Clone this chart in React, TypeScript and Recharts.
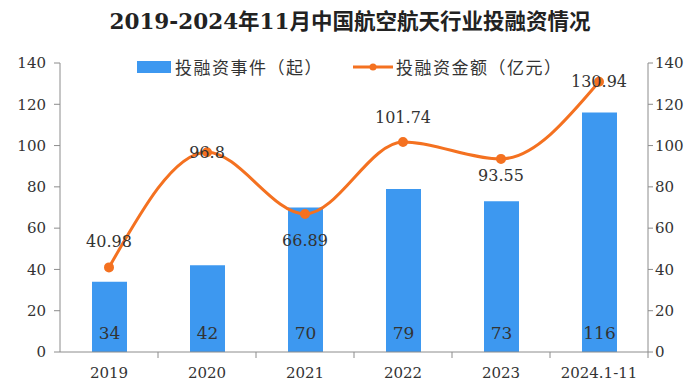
import { Bar, Line, XAxis, YAxis, LabelList, ComposedChart } from 'recharts'

const years = ['2019', '2020', '2021', '2022', '2023', '2024.1-11']
const eventCounts = [34, 42, 70, 79, 73, 116]
const amounts = [40.98, 96.8, 66.89, 101.74, 93.55, 130.94]
const yTicks = [0, 20, 40, 60, 80, 100, 120, 140]

// label nudges for the amount line (the source puts some above, some below the points)
const amountLabelDy = [-26, 0, 27, -24, 17, 0]

const data = years.map((year, i) => ({
  year,
  count: eventCounts[i],
  amount: amounts[i],
}))

const BLUE = '#3d98f0'
const ORANGE = '#f47120'
const AXIS = '#8c8c8c'
const TEXT = '#333'
const SERIF = '"DejaVu Serif", "Noto Sans CJK SC", serif'
const CJK = '"Noto Sans CJK SC", sans-serif'

const WIDTH = 690
const HEIGHT = 385
const LEFT_W = 60
const RIGHT_W = 42
const BAND = (WIDTH - LEFT_W - RIGHT_W) / years.length

function XTick(props: any) {
  const { x, y, payload } = props
  return (
    <g>
      <line x1={x + BAND / 2} x2={x + BAND / 2} y1={y} y2={y + 6} stroke={AXIS} />
      <text x={x} y={y + 21} textAnchor="middle" dominantBaseline="central" fill={TEXT} fontSize={15} fontFamily={SERIF}>
        {payload.value}
      </text>
    </g>
  )
}

function AmountLabel(props: any) {
  const { x, y, index, value } = props
  return (
    <text x={x} y={y + amountLabelDy[index]} textAnchor="middle" dominantBaseline="central" fill={TEXT} fontSize={16} fontFamily={SERIF}>
      {value}
    </text>
  )
}

function LegendBox() {
  return (
    <div
      style={{
        position: 'absolute',
        top: 54,
        left: 137,
        display: 'flex',
        alignItems: 'center',
        fontFamily: CJK,
        fontSize: 17,
        color: TEXT,
        zIndex: 2,
      }}
    >
      <span style={{ display: 'inline-block', width: 34, height: 12, background: BLUE, marginRight: 4 }} />
      <span style={{ letterSpacing: 1.5 }}>投融资事件（起）</span>
      <svg width={40} height={12} style={{ marginLeft: 30, marginRight: 3 }}>
        <line x1={0} x2={40} y1={6} y2={6} stroke={ORANGE} strokeWidth={3} />
        <circle cx={20} cy={6} r={3.5} fill={ORANGE} />
      </svg>
      <span style={{ letterSpacing: 1.5 }}>投融资金额（亿元）</span>
    </div>
  )
}

export default function App() {
  return (
    <div style={{ position: 'absolute', left: 0, top: 0, width: WIDTH, height: HEIGHT, background: '#fff' }}>
      <div
        style={{
          position: 'absolute',
          top: 7,
          left: 0,
          width: WIDTH,
          textAlign: 'center',
          fontFamily: SERIF,
          fontWeight: 'bold',
          fontSize: 21.5,
          color: '#222',
          lineHeight: '30px',
          paddingLeft: 10,
          boxSizing: 'border-box',
        }}
      >
        2019-2024年11月中国航空航天行业投融资情况
      </div>
      <LegendBox />
      <ComposedChart width={WIDTH} height={HEIGHT} data={data} margin={{ top: 63, right: 0, bottom: 0, left: 0 }}>
        <XAxis
          dataKey="year"
          height={33}
          stroke={AXIS}
          tickLine={false}
          tickSize={0}
          tickMargin={0}
          tick={<XTick />}
          interval={0}
        />
        <YAxis
          yAxisId="left"
          width={LEFT_W}
          domain={[0, 140]}
          ticks={yTicks}
          stroke={AXIS}
          tickSize={6}
          tickMargin={8}
          tick={{ fill: TEXT, fontSize: 15, fontFamily: SERIF }}
        />
        <YAxis
          yAxisId="right"
          orientation="right"
          width={RIGHT_W}
          domain={[0, 140]}
          ticks={yTicks}
          stroke={AXIS}
          tickSize={5}
          tickMargin={2}
          tick={{ fill: TEXT, fontSize: 15, fontFamily: SERIF }}
        />
        <Bar yAxisId="left" dataKey="count" name="投融资事件（起）" fill={BLUE} barSize={35} isAnimationActive={false}>
          <LabelList dataKey="count" position="insideBottom" offset={13} fill={TEXT} fontSize={17} fontFamily={SERIF} />
        </Bar>
        <Line
          yAxisId="right"
          type="monotone"
          dataKey="amount"
          name="投融资金额（亿元）"
          stroke={ORANGE}
          strokeWidth={3}
          dot={{ r: 3.5, fill: ORANGE, stroke: ORANGE }}
          isAnimationActive={false}
        >
          <LabelList dataKey="amount" content={<AmountLabel />} />
        </Line>
      </ComposedChart>
    </div>
  )
}
